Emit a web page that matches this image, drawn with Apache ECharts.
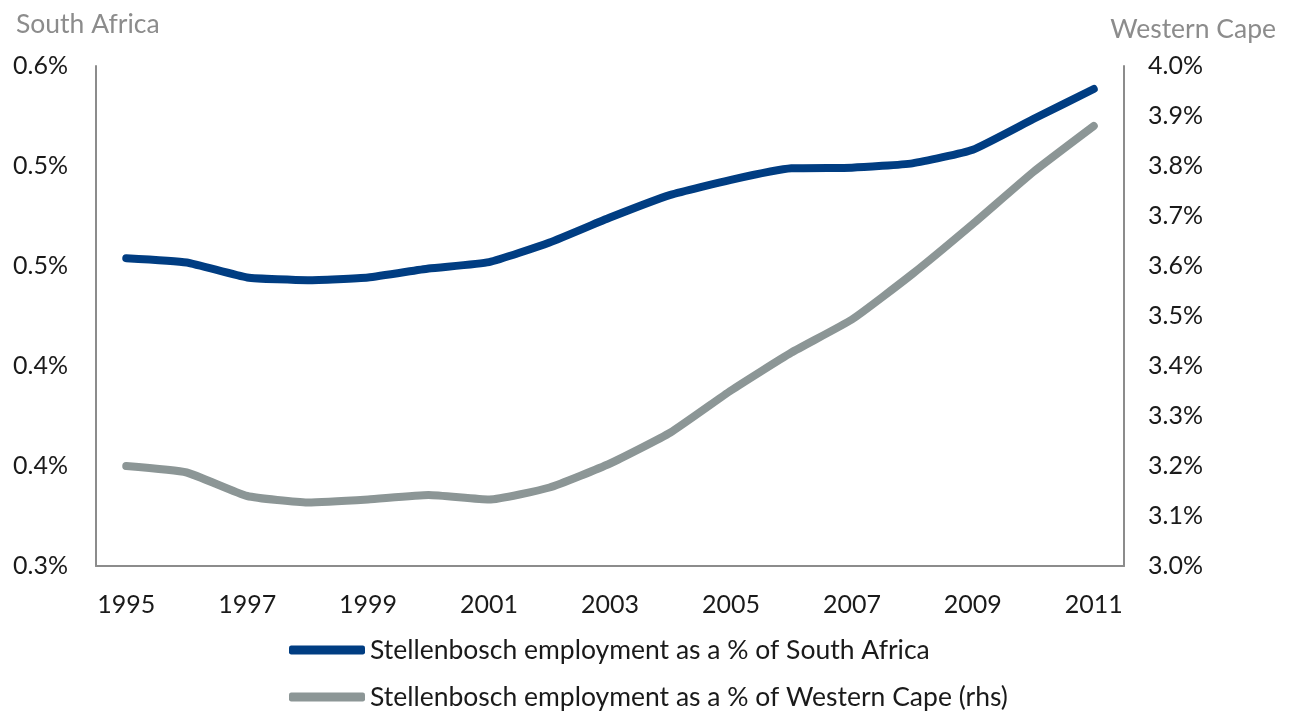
<!DOCTYPE html>
<html>
<head>
<meta charset="utf-8">
<script src="https://cdn.jsdelivr.net/npm/echarts@6/dist/echarts.min.js"></script>
<style>
html,body{margin:0;padding:0;background:#fff;}
#chart{width:1295px;height:713px;}
</style>
</head>
<body>
<div id="chart"></div>
<script>
const years = ['1995','1996','1997','1998','1999','2000','2001','2002','2003','2004','2005','2006','2007','2008','2009','2010','2011'];
const shareSouthAfrica = [0.4847,0.4821,0.4731,0.4715,0.4731,0.4785,0.4823,0.4941,0.5091,0.5227,0.5317,0.5386,0.5390,0.5416,0.5498,0.5682,0.5862];
const shareWesternCape = [3.200,3.187,3.140,3.127,3.133,3.142,3.133,3.157,3.205,3.267,3.351,3.427,3.493,3.584,3.684,3.788,3.880];
const seriesNames = ['Stellenbosch employment as a % of South Africa','Stellenbosch employment as a % of Western Cape (rhs)'];
const leftAxisTitle = 'South Africa';
const rightAxisTitle = 'Western Cape';

const FONT = 'Lato, "Open Sans", sans-serif';
const FS = 25;
const FS2 = 26.5;
const legendText = {fontFamily:FONT,fontSize:FS2,color:'#1a1a1a',lineHeight:30};
const chart = echarts.init(document.getElementById('chart'), null, {renderer:'canvas'});
chart.setOption({
  animation:false,
  backgroundColor:'#ffffff',
  textStyle:{fontFamily:FONT},
  title:[
    {text:leftAxisTitle,left:11,top:6,textStyle:{fontFamily:FONT,fontSize:FS2,fontWeight:'normal',color:'#8c8c8c'}},
    {text:rightAxisTitle,right:14,top:11,textStyle:{fontFamily:FONT,fontSize:FS2,fontWeight:'normal',color:'#8c8c8c'}}
  ],
  grid:{left:96,right:171,top:66,bottom:147,containLabel:false},
  legend:[
    {left:284,top:630,itemWidth:76,itemHeight:9,icon:'roundRect',textStyle:legendText,data:[seriesNames[0]]},
    {left:284,top:677,itemWidth:76,itemHeight:9,icon:'roundRect',textStyle:legendText,data:[seriesNames[1]]}
  ],
  xAxis:{
    type:'category',data:years,boundaryGap:true,
    axisLine:{lineStyle:{color:'#8c8c8c',width:2}},
    axisTick:{show:false},
    axisLabel:{interval:1,margin:26,fontFamily:FONT,fontSize:FS,color:'#1a1a1a'},
    splitLine:{show:false}
  },
  yAxis:[
    {type:'value',min:0.30,max:0.60,interval:0.06,position:'left',
     axisLine:{show:true,lineStyle:{color:'#8c8c8c',width:2}},axisTick:{show:false},splitLine:{show:false},
     axisLabel:{margin:28,fontFamily:FONT,fontSize:FS,color:'#1a1a1a',formatter:v=>v.toFixed(1)+'%'}},
    {type:'value',min:3.0,max:4.0,interval:0.1,position:'right',
     axisLine:{show:true,lineStyle:{color:'#8c8c8c',width:2}},axisTick:{show:false},splitLine:{show:false},
     axisLabel:{margin:24,fontFamily:FONT,fontSize:FS,color:'#1a1a1a',formatter:v=>v.toFixed(1)+'%'}}
  ],
  series:[
    {name:seriesNames[0],type:'line',yAxisIndex:0,data:shareSouthAfrica,symbol:'none',smooth:0.15,
     lineStyle:{color:'#003D82',width:8,cap:'round',join:'round'},itemStyle:{color:'#003D82'}},
    {name:seriesNames[1],type:'line',yAxisIndex:1,data:shareWesternCape,symbol:'none',smooth:0.15,
     lineStyle:{color:'#8C9696',width:8,cap:'round',join:'round'},itemStyle:{color:'#8C9696'}}
  ]
});
</script>
</body>
</html>
